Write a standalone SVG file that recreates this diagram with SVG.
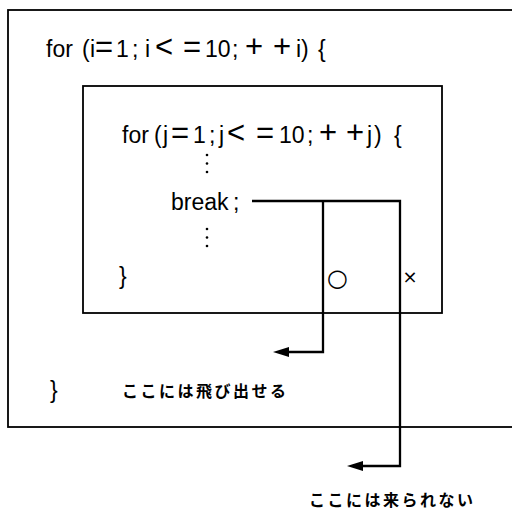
<svg xmlns="http://www.w3.org/2000/svg" width="512" height="511" viewBox="0 0 512 511">
<style>
.box{fill:none;stroke:#000;stroke-width:1.8}
.code{font-family:"Liberation Sans",Arial,sans-serif;font-size:23px;fill:#000}
.op{font-size:31px}
.jp{font-family:"Noto Sans CJK JP","Noto Sans",sans-serif;font-size:16px;font-weight:700;fill:#000}
.sym{font-family:"DejaVu Sans",sans-serif;fill:#000}
.conn{fill:none;stroke:#000;stroke-width:2.3}
.dot{fill:#000}
</style>
<defs>
<marker id="arr" markerUnits="userSpaceOnUse" markerWidth="16" markerHeight="10" refX="6" refY="5" orient="auto">
<path d="M0,0 L16,5 L0,10 Z" fill="#000"/>
</marker>
</defs>
<rect width="512" height="511" fill="#fff"/>
<g id="outer-loop">
<rect class="box" x="8" y="10" width="520" height="417"/>
<text class="code" y="57"><tspan x="46">for</tspan><tspan x="82">(</tspan><tspan x="90">i</tspan><tspan class="op" x="95">=</tspan><tspan x="116">1</tspan><tspan x="132">;</tspan><tspan x="145">i</tspan><tspan class="op" x="155">&lt;</tspan><tspan class="op" x="183">=</tspan><tspan x="205">10</tspan><tspan x="232">;</tspan><tspan class="op" x="245">+</tspan><tspan class="op" x="273">+</tspan><tspan x="296">i</tspan><tspan x="301">)</tspan><tspan x="318">{</tspan></text>
<text class="code" x="50" y="398">}</text>
<text class="jp" x="122" y="397" textLength="164" lengthAdjust="spacing">ここには飛び出せる</text>
</g>
<g id="inner-loop">
<rect class="box" x="83" y="86" width="359" height="227"/>
<text class="code" y="143"><tspan x="122">for</tspan><tspan x="154">(</tspan><tspan x="163">j</tspan><tspan class="op" x="171">=</tspan><tspan x="193">1</tspan><tspan x="209">;</tspan><tspan x="219">j</tspan><tspan class="op" x="227">&lt;</tspan><tspan class="op" x="256">=</tspan><tspan x="279">10</tspan><tspan x="307">;</tspan><tspan class="op" x="319">+</tspan><tspan class="op" x="346">+</tspan><tspan x="367">j</tspan><tspan x="374">)</tspan><tspan x="394">{</tspan></text>
<circle class="dot" cx="207" cy="155" r="1.3"/>
<circle class="dot" cx="207" cy="163.5" r="1.3"/>
<circle class="dot" cx="207" cy="172" r="1.3"/>
<text class="code" x="171" y="210">break<tspan x="233">;</tspan></text>
<circle class="dot" cx="207" cy="229" r="1.3"/>
<circle class="dot" cx="207" cy="237.5" r="1.3"/>
<circle class="dot" cx="207" cy="246" r="1.3"/>
<text class="code" x="119" y="284">}</text>
<text class="sym" x="337.5" y="286" font-size="24" text-anchor="middle">○</text>
<text class="sym" x="410" y="283" font-size="18" text-anchor="middle">×</text>
</g>
<g id="outside">
<text class="jp" x="309" y="506" textLength="164" lengthAdjust="spacing">ここには来られない</text>
</g>
<g id="connectors">
<path class="conn" d="M252,201 H400 V466 H357" marker-end="url(#arr)"/>
<path class="conn" d="M323,201 V352 H283" marker-end="url(#arr)"/>
</g>
</svg>
